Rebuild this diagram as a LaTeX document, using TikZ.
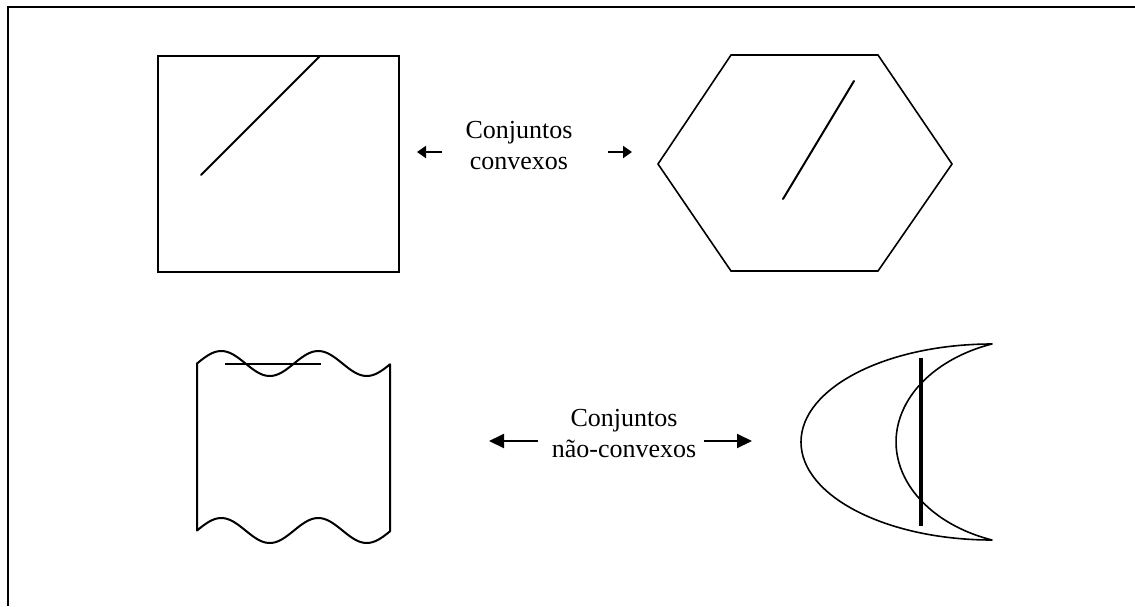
\documentclass[tikz,border=0pt]{standalone}
\usepackage{fontspec}
\setmainfont{Liberation Serif}
\usetikzlibrary{arrows.meta}

\begin{document}
\begin{tikzpicture}[x=1pt, y=-1pt,
  outl/.style={line width=1.6pt, line join=miter},
  thk/.style={line width=2pt},
  seg/.style={line width=2pt, line cap=round},
  lbl/.style={font=\fontsize{26}{31}\selectfont, align=center},
  arrs/.style={-{Triangle[length=9pt, width=12pt]}, line width=2pt},
  arrl/.style={-{Triangle[length=15pt, width=14pt]}, line width=2pt},
]

\useasboundingbox (0,0) rectangle (1135,606);

% === Frame ===
\draw[line width=1.5pt] (8,606) -- (8,7) -- (1135,7);

% === Convex sets (top row) ===
\draw[thk] (158,56) rectangle (399,272);
\draw[seg] (201,175) -- (320,56);

\draw[outl] (731,55) -- (878,55) -- (952,164) -- (878,271) -- (731,271) -- (658,164) -- cycle;
\draw[seg] (783,199) -- (854,81);

\node[lbl] (convtxt) at (519,146) {Conjuntos\\convexos};
\coordinate (convL) at (417,152);
\coordinate (convR) at (632,152);
\draw[arrs, shorten <=20pt] (convtxt.west |- convL) -- (convL);
\draw[arrs, shorten <=32pt] (convtxt.east |- convR) -- (convR);

% === Non-convex sets (bottom row) ===
\draw[thk, line join=round]
  plot[domain=197:390, samples=80, smooth] (\x, {363.5-12.5*sin(3.7113*(\x-197))})
  -- (390,530.5)
  -- plot[domain=390:197, samples=80, smooth] (\x, {530.5-12.5*sin(3.7113*(\x-197))})
  -- cycle;
\draw[thk] (225,364) -- (321,364);

\draw[outl, line join=round] (992,344) arc[start angle=270, end angle=90, x radius=191, y radius=98]
  arc[start angle=109.5, end angle=250.5, x radius=144, y radius=104] -- cycle;
\draw[line width=4pt] (921,358) -- (921,526);

\node[lbl] (nconvtxt) at (624,434) {Conjuntos\\não-convexos};
\coordinate (nconvL) at (489,441);
\coordinate (nconvR) at (752,441);
\draw[arrl, shorten <=10pt] (nconvtxt.west |- nconvL) -- (nconvL);
\draw[arrl, shorten <=4pt] (nconvtxt.east |- nconvR) -- (nconvR);

\end{tikzpicture}
\end{document}
